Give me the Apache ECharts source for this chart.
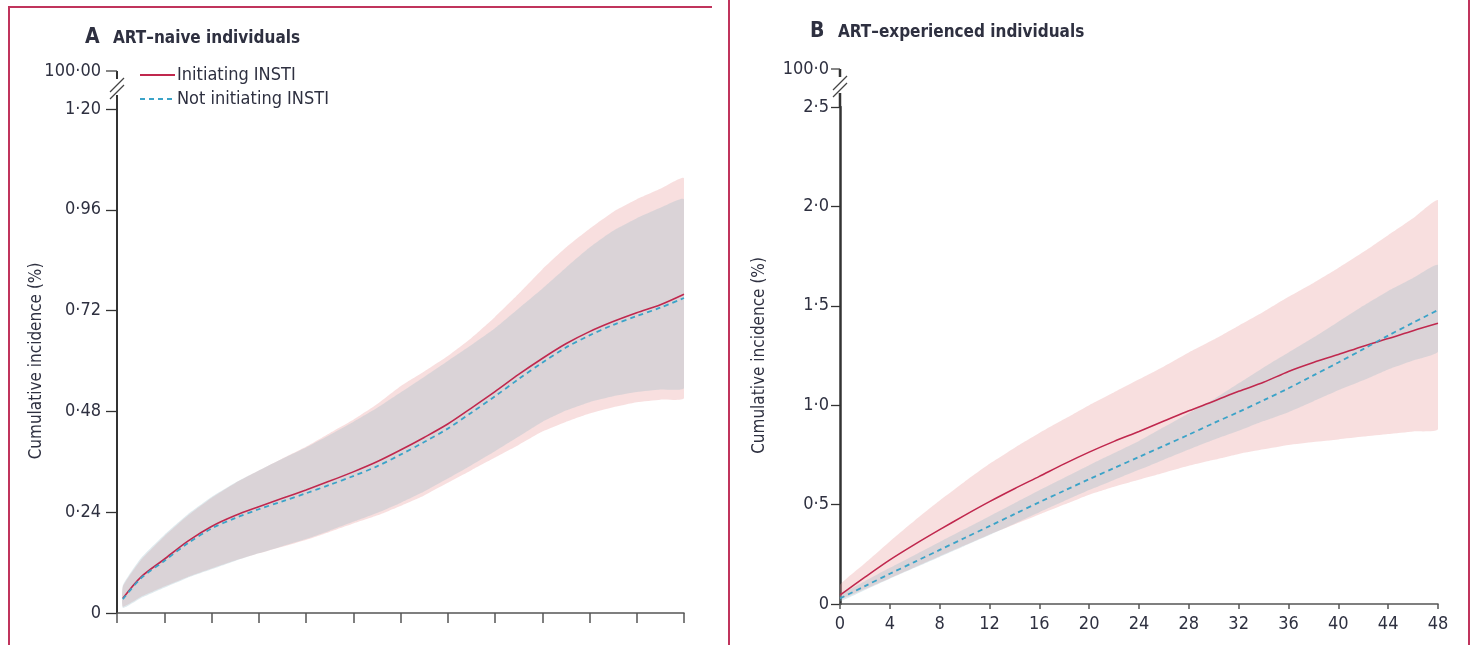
<!DOCTYPE html>
<html><head><meta charset="utf-8">
<script src="https://cdn.jsdelivr.net/npm/echarts@6/dist/echarts.min.js"></script>
<style>html,body{margin:0;padding:0;background:#fff}#c{width:1473px;height:645px}</style>
</head><body><div id="c"></div>
<script>
// ---------- data ----------
const monthsA = [0.5,2,4,6,8,10,12,14,16,18,20,22,24,26,28,30,32,34,36,38,40,42,44,46,48];
const instiA = [0.035,0.085,0.128,0.171,0.206,0.232,0.253,0.273,0.293,0.314,0.336,0.360,0.388,0.418,0.450,0.488,0.527,0.568,0.606,0.641,0.670,0.694,0.715,0.734,0.759];
const noInstiA = [0.033,0.082,0.124,0.166,0.201,0.226,0.247,0.266,0.285,0.305,0.326,0.349,0.377,0.407,0.439,0.477,0.516,0.557,0.596,0.632,0.661,0.686,0.707,0.727,0.750];
const instiUpA = [0.063,0.125,0.182,0.232,0.274,0.309,0.339,0.368,0.396,0.428,0.460,0.497,0.540,0.575,0.612,0.655,0.705,0.760,0.818,0.870,0.915,0.955,0.985,1.010,1.035];
const instiLoA = [0.015,0.038,0.063,0.086,0.106,0.125,0.142,0.158,0.174,0.193,0.213,0.232,0.255,0.280,0.310,0.340,0.370,0.400,0.432,0.455,0.475,0.490,0.502,0.508,0.512];
const noInstiUpA = [0.066,0.130,0.186,0.235,0.276,0.310,0.339,0.367,0.394,0.424,0.455,0.488,0.525,0.562,0.600,0.638,0.678,0.725,0.772,0.822,0.870,0.910,0.940,0.965,0.985];
const noInstiLoA = [0.012,0.035,0.060,0.084,0.104,0.124,0.142,0.159,0.176,0.196,0.217,0.238,0.262,0.289,0.320,0.352,0.385,0.420,0.455,0.482,0.502,0.516,0.526,0.532,0.536];

const monthsB = [0,2,4,6,8,10,12,14,16,18,20,22,24,26,28,30,32,34,36,38,40,42,44,46,48];
const instiB = [0.045,0.135,0.222,0.300,0.374,0.446,0.515,0.580,0.642,0.705,0.764,0.818,0.868,0.920,0.972,1.020,1.070,1.115,1.170,1.215,1.255,1.297,1.335,1.375,1.412];
const noInstiB = [0.028,0.090,0.152,0.212,0.272,0.332,0.392,0.452,0.512,0.570,0.628,0.684,0.740,0.796,0.852,0.910,0.966,1.025,1.085,1.150,1.215,1.282,1.350,1.415,1.479];
const instiUpB = [0.096,0.205,0.315,0.420,0.520,0.615,0.705,0.785,0.860,0.930,1.000,1.065,1.130,1.195,1.265,1.330,1.400,1.470,1.545,1.615,1.690,1.770,1.855,1.940,2.030];
const instiLoB = [0.025,0.075,0.130,0.185,0.240,0.295,0.350,0.400,0.450,0.500,0.550,0.590,0.625,0.660,0.695,0.725,0.755,0.778,0.800,0.815,0.828,0.842,0.855,0.868,0.880];
const noInstiUpB = [0.046,0.115,0.182,0.247,0.312,0.377,0.442,0.507,0.572,0.635,0.698,0.759,0.820,0.890,0.960,1.030,1.110,1.190,1.265,1.340,1.420,1.500,1.575,1.640,1.705];
const noInstiLoB = [0.013,0.070,0.127,0.182,0.237,0.292,0.347,0.404,0.462,0.518,0.573,0.624,0.675,0.726,0.777,0.826,0.871,0.920,0.965,1.020,1.075,1.125,1.180,1.225,1.270];

const titleA = ['A','ART–naive individuals'];
const titleB = ['B','ART–experienced individuals'];
const breakLabelA = '100·00';
const breakLabelB = '100·0';
const yName = 'Cumulative incidence (%)';
const legendNames = ['Initiating INSTI','Not initiating INSTI'];

// ---------- style ----------
const FONT = "'DejaVu Sans Condensed','Liberation Sans Narrow','DejaVu Sans',sans-serif";
const TXT = '#2e3040';
const RED = '#c0284e';
const BLUE = '#3ba3c8';
const PINK = 'rgba(232,150,150,0.30)';
const BLUEBAND = 'rgba(150,185,200,0.30)';
const AXIS = '#333333';

function pairs(xs, ys){ return xs.map((x,i)=>[x, ys[i]]); }
function fmt(v, dec){ if(v===0) return '0'; return v.toFixed(dec).replace('.', '·'); }

// confidence band drawn as a polygon through the axis scales
function band(xs, lo, up, color, gi){
  return {
    type:'custom', xAxisIndex:gi, yAxisIndex:gi, silent:true, z:1, clip:true,
    data:[[xs[0], lo[0]]],
    renderItem:function(params, api){
      const pts = [];
      for(let i=0;i<xs.length;i++) pts.push(api.coord([xs[i], up[i]]));
      for(let i=xs.length-1;i>=0;i--) pts.push(api.coord([xs[i], lo[i]]));
      return {type:'polygon', shape:{points:pts, smooth:0.15}, style:{fill:color, stroke:null}};
    }
  };
}
function lines(xs, a, b, gi){
  return [
    {type:'line', name:legendNames[0], xAxisIndex:gi, yAxisIndex:gi, data:pairs(xs,a), symbol:'none', smooth:0.3,
     lineStyle:{color:RED, width:1.6}, itemStyle:{color:RED}, z:5},
    {type:'line', name:legendNames[1], xAxisIndex:gi, yAxisIndex:gi, data:pairs(xs,b), symbol:'none', smooth:0.3,
     lineStyle:{color:BLUE, width:1.8, type:[5,4]}, itemStyle:{color:BLUE}, z:6}
  ];
}

const chart = echarts.init(document.getElementById('c'), null, {renderer:'canvas'});
const option = {
  animation:false,
  backgroundColor:'#fff',
  textStyle:{fontFamily:FONT},
  grid:[
    {left:117, right:789, top:109, bottom:32},
    {left:840, right:35, top:107, bottom:41}
  ],
  xAxis:[
    {gridIndex:0, type:'value', min:0, max:48, interval:4,
     axisLine:{lineStyle:{color:'#555', width:1.5}}, axisTick:{length:10, lineStyle:{color:'#555', width:1.5}},
     axisLabel:{show:false}, splitLine:{show:false}},
    {gridIndex:1, type:'value', min:0, max:48, interval:4,
     axisLine:{lineStyle:{color:'#555', width:1.5}}, axisTick:{length:5, lineStyle:{color:'#555', width:1.5}},
     axisLabel:{color:TXT, fontSize:18, fontFamily:FONT, margin:11, formatter:v=>String(v)}, splitLine:{show:false}}
  ],
  yAxis:[
    {gridIndex:0, type:'value', min:0, max:1.2, interval:0.24,
     name:yName, nameLocation:'middle', nameGap:72, nameTextStyle:{color:TXT, fontSize:17, fontFamily:FONT},
     axisLine:{show:true, lineStyle:{color:AXIS, width:2}}, axisTick:{show:true, length:11, lineStyle:{color:AXIS, width:1.3}},
     axisLabel:{color:TXT, fontSize:18, fontFamily:FONT, margin:16, formatter:v=>fmt(v,2)}, splitLine:{show:false}},
    {gridIndex:1, type:'value', min:0, max:2.5, interval:0.5,
     name:yName, nameLocation:'middle', nameGap:72, nameTextStyle:{color:TXT, fontSize:17, fontFamily:FONT},
     axisLine:{show:true, lineStyle:{color:AXIS, width:2.5}}, axisTick:{show:true, length:9, lineStyle:{color:AXIS, width:1.3}},
     axisLabel:{color:TXT, fontSize:18, fontFamily:FONT, margin:11, formatter:v=>fmt(v,1)}, splitLine:{show:false}}
  ],
  legend:{
    show:true, data:legendNames, orient:'vertical', left:134, top:61, itemWidth:35, itemHeight:14, itemGap:6,
    selectedMode:false, itemStyle:{opacity:0, borderWidth:0},
    textStyle:{color:TXT, fontSize:18, fontFamily:FONT, padding:[0,0,0,-3]}
  },
  series:[
    band(monthsA, instiLoA, instiUpA, PINK, 0),
    band(monthsA, noInstiLoA, noInstiUpA, BLUEBAND, 0),
    ...lines(monthsA, instiA, noInstiA, 0),
    band(monthsB, instiLoB, instiUpB, PINK, 1),
    band(monthsB, noInstiLoB, noInstiUpB, BLUEBAND, 1),
    ...lines(monthsB, instiB, noInstiB, 1)
  ]
};
chart.setOption(option);

// ---------- decorations: panel frames, titles, axis breaks ----------
function breakMarks(gi, topVal, label){
  const p = chart.convertToPixel({xAxisIndex:gi, yAxisIndex:gi}, [0, topVal]);
  const x = p[0], y = p[1];
  const st = {stroke:AXIS, lineWidth:gi===0?2:2.5};
  const thin = {stroke:'#444', lineWidth:1.3};
  const tl = gi===0 ? 11 : 9;
  const gap = gi===0 ? 16 : 11;
  return [
    {type:'line', shape:{x1:x, y1:y, x2:x, y2:y-14}, style:st, silent:true},
    {type:'line', shape:{x1:x-7, y1:y-10, x2:x+7, y2:y-24}, style:thin, silent:true},
    {type:'line', shape:{x1:x-7, y1:y-17, x2:x+7, y2:y-31}, style:thin, silent:true},
    {type:'line', shape:{x1:x, y1:y-30, x2:x, y2:y-38}, style:st, silent:true},
    {type:'line', shape:{x1:x-tl, y1:y-38, x2:x, y2:y-38}, style:thin, silent:true},
    {type:'text', x:x-gap, y:y-38, style:{text:label, fill:TXT, font:'18px '+FONT, align:'right', verticalAlign:'middle'}, silent:true}
  ];
}
function title(x, y, t){
  return [
    {type:'text', x:x, y:y, silent:true, style:{text:t[0], fill:TXT, font:'bold 21px '+FONT, verticalAlign:'middle'}},
    {type:'text', x:x+28, y:y+1, silent:true, style:{text:t[1], fill:TXT, font:'bold 17px '+FONT, verticalAlign:'middle'}}
  ];
}
const frame = {stroke:'#c0345c', lineWidth:2};
chart.setOption({graphic:[
  {type:'polyline', shape:{points:[[9,645],[9,7],[712,7]]}, style:{fill:null, stroke:'#c0345c', lineWidth:2}, silent:true},
  {type:'line', shape:{x1:729, y1:0, x2:729, y2:645}, style:frame, silent:true},
  {type:'line', shape:{x1:1469, y1:0, x2:1469, y2:645}, style:frame, silent:true},
  ...title(85, 38, titleA),
  ...title(810, 32, titleB),
  ...breakMarks(0, 1.2, breakLabelA),
  ...breakMarks(1, 2.5, breakLabelB)
]});
</script></body></html>
